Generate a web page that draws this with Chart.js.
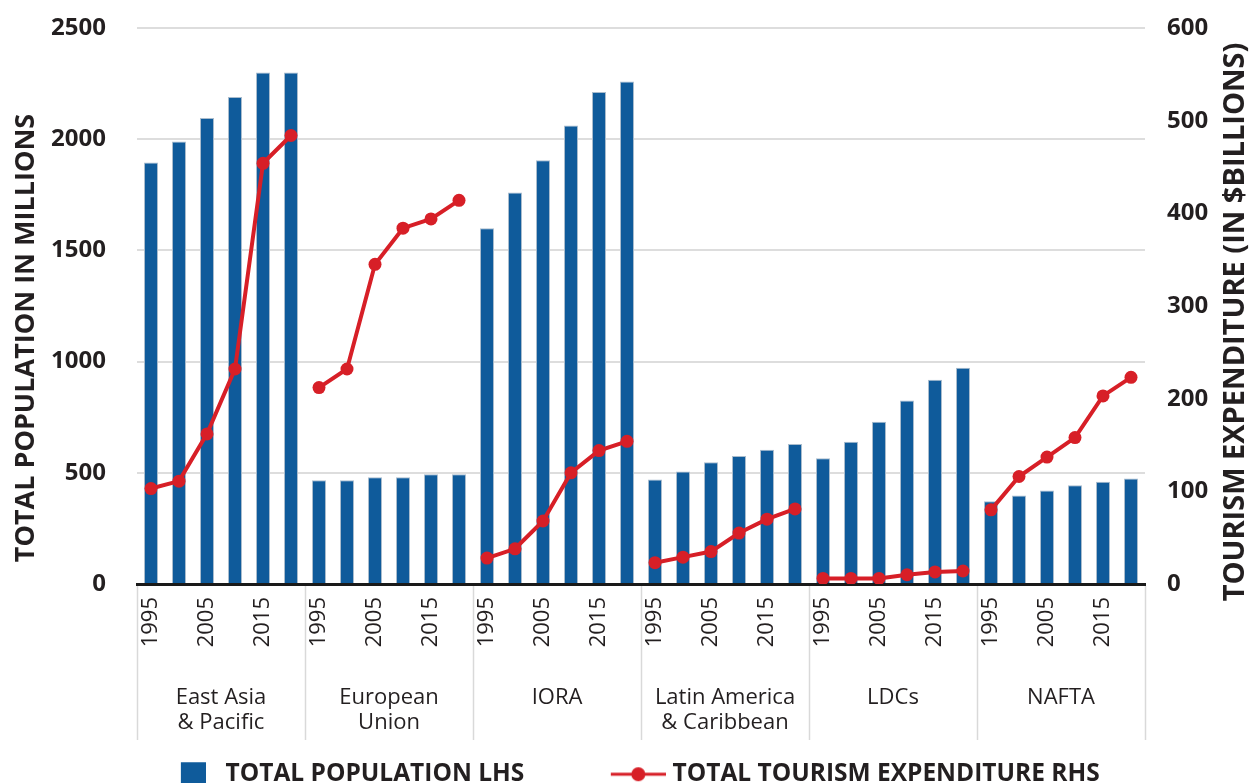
<!DOCTYPE html>
<html>
<head>
<meta charset="utf-8">
<script src="https://cdn.jsdelivr.net/npm/chart.js@4.4.1/dist/chart.umd.min.js"></script>
<style>
    html, body { margin: 0; padding: 0; background: #fff; }
    #wrap { width: 1250px; height: 783px; position: relative; }
</style>
</head>
<body>
<div id="wrap"><canvas id="chart"></canvas></div>
<script>
// Regiones y años de cada grupo
const groups = [['East Asia', '& Pacific'], ['European', 'Union'], 'IORA', ['Latin America', '& Caribbean'], 'LDCs', 'NAFTA'];
const years = ['1995', '2000', '2005', '2010', '2015', '2019'];

// Población total (millones), 6 años por región
const population = [
    1895, 1990, 2095, 2190, 2300, 2300,   // East Asia & Pacific
    466, 466, 480, 480, 493, 493,         // European Union
    1600, 1760, 1905, 2062, 2212, 2260,   // IORA
    470, 506, 547, 576, 604, 630,         // Latin America & Caribbean
    565, 640, 730, 825, 918, 972,         // LDCs
    372, 398, 420, 444, 460, 474          // NAFTA
];

// Gasto turístico total (miles de millones $)
const expenditure = [
    103, 111, 162, 232, 454, 484,
    212, 232, 345, 384, 394, 414,
    28, 38, 68, 120, 144, 154,
    23, 29, 35, 55, 70, 81,
    6, 6, 6, 10, 13, 14,
    80, 116, 137, 158, 203, 223
];

const leftTicks = [0, 500, 1000, 1500, 2000, 2500];
const rightTicks = [0, 100, 200, 300, 400, 500, 600];

const BLUE = '#0f5b9b';
const RED = '#d71f27';
const INK = '#231f20';
const FONT = "'Open Sans', 'DejaVu Sans', sans-serif";

const categoryLabels = groups.flatMap(() => years);

// Iconos de la leyenda (cuadro azul y línea con punto)
function legendIcon(width, draw) {
    const c = document.createElement('canvas');
    c.width = width;
    c.height = 26;
    draw(c.getContext('2d'));
    return c;
}
const barIcon = legendIcon(90, ctx => {
    ctx.fillStyle = BLUE;
    ctx.fillRect(65, 1, 25, 24);
});
const lineIcon = legendIcon(116, ctx => {
    ctx.strokeStyle = RED;
    ctx.lineWidth = 3;
    ctx.beginPath();
    ctx.moveTo(61, 13);
    ctx.lineTo(116, 13);
    ctx.stroke();
    ctx.fillStyle = RED;
    ctx.beginPath();
    ctx.arc(88.5, 13, 7, 0, Math.PI * 2);
    ctx.fill();
});

// Separadores de grupos y títulos de ejes (leídos de abajo hacia arriba)
const decorations = {
    id: 'decorations',
    afterDraw(chart) {
        const { ctx, chartArea } = chart;
        const x = chart.scales.x;
        const slot = x.width / categoryLabels.length;
        ctx.save();
        ctx.strokeStyle = '#d9d9d9';
        ctx.lineWidth = 1.5;
        for (let g = 0; g <= groups.length; g++) {
            const px = Math.round(x.getPixelForValue(g * years.length) - slot / 2) + 0.5;
            ctx.beginPath();
            ctx.moveTo(px, chartArea.bottom + 2);
            ctx.lineTo(px, 740);
            ctx.stroke();
        }
        ctx.fillStyle = INK;
        ctx.textAlign = 'center';
        ctx.textBaseline = 'middle';
        [['TOTAL POPULATION IN MILLIONS', 26, 338, 27], ['TOURISM EXPENDITURE (IN $BILLIONS)', 1236, 322, 29]].forEach(([text, tx, ty, size]) => {
            ctx.save();
            ctx.font = `bold ${size}px ${FONT}`;
            ctx.translate(tx, ty);
            ctx.rotate(-Math.PI / 2);
            ctx.fillText(text, 0, 0);
            ctx.restore();
        });
        ctx.restore();
    }
};

new Chart(document.getElementById('chart'), {
    type: 'bar',
    data: {
        labels: categoryLabels,
        datasets: [
            {
                type: 'bar',
                label: 'TOTAL POPULATION LHS',
                data: population,
                yAxisID: 'y',
                backgroundColor: BLUE,
                borderColor: '#a9bccd',
                borderWidth: 1,
                barPercentage: 0.5,
                categoryPercentage: 1,
                order: 2
            },
            {
                type: 'line',
                label: 'TOTAL TOURISM EXPENDITURE RHS',
                data: expenditure,
                yAxisID: 'y1',
                borderColor: RED,
                backgroundColor: RED,
                borderWidth: 4,
                pointRadius: 6.5,
                pointBorderWidth: 0,
                pointBackgroundColor: RED,
                segment: {
                    borderColor: c => (c.p0DataIndex % years.length === years.length - 1 ? 'transparent' : RED)
                },
                order: 1
            }
        ]
    },
    options: {
        responsive: true,
        maintainAspectRatio: false,
        animation: false,
        layout: { padding: { left: 0, right: 42, top: 28, bottom: 0 } },
        plugins: {
            tooltip: { enabled: false },
            legend: {
                position: 'bottom',
                align: 'center',
                maxHeight: 52,
                labels: {
                    usePointStyle: true,
                    pointStyleWidth: 105,
                    padding: 31,
                    color: INK,
                    font: { family: FONT, size: 24.5, weight: 'bold' },
                    generateLabels: chart => chart.data.datasets.map((ds, i) => ({
                        text: ds.label,
                        datasetIndex: i,
                        pointStyle: i === 0 ? barIcon : lineIcon,
                        fontColor: INK,
                        fillStyle: 'transparent',
                        strokeStyle: 'transparent',
                        lineWidth: 0,
                        hidden: false
                    }))
                }
            }
        },
        scales: {
            x: {
                position: 'bottom',
                grid: { display: false },
                border: { display: true, color: '#1a1a1a', width: 3 },
                ticks: {
                    autoSkip: false,
                    minRotation: 90,
                    maxRotation: 90,
                    padding: 5,
                    color: INK,
                    font: { family: FONT, size: 22 },
                    callback: (v, i) => (i % 2 === 0 ? categoryLabels[i] : '')
                },
                afterFit: s => { s.height = 80; }
            },
            x2: {
                type: 'category',
                labels: groups,
                position: 'bottom',
                offset: true,
                grid: { display: false },
                border: { display: false },
                ticks: {
                    padding: 13,
                    color: INK,
                    font: { family: FONT, size: 22, lineHeight: 1.14 },
                    maxRotation: 0
                },
                afterFit: s => { s.height = 67; }
            },
            y: {
                position: 'left',
                min: 0,
                max: 2500,
                afterBuildTicks: s => { s.ticks = leftTicks.map(v => ({ value: v })); },
                grid: { color: '#dddddd', lineWidth: 2, drawTicks: false },
                border: { display: false },
                ticks: {
                    padding: 31,
                    color: INK,
                    font: { family: FONT, size: 24, weight: 'bold' },
                    callback: v => String(v)
                },
                afterFit: s => { s.width = 137; s.paddingTop = 0; s.paddingBottom = 0; }
            },
            y1: {
                position: 'right',
                min: 0,
                max: 600,
                afterBuildTicks: s => { s.ticks = rightTicks.map(v => ({ value: v })); },
                grid: { drawOnChartArea: false, drawTicks: false },
                border: { display: false },
                ticks: {
                    padding: 22,
                    color: INK,
                    font: { family: FONT, size: 24, weight: 'bold' },
                    callback: v => String(v)
                },
                afterFit: s => { s.width = 63; s.paddingTop = 0; s.paddingBottom = 0; }
            }
        }
    },
    plugins: [decorations]
});
</script>
</body>
</html>
